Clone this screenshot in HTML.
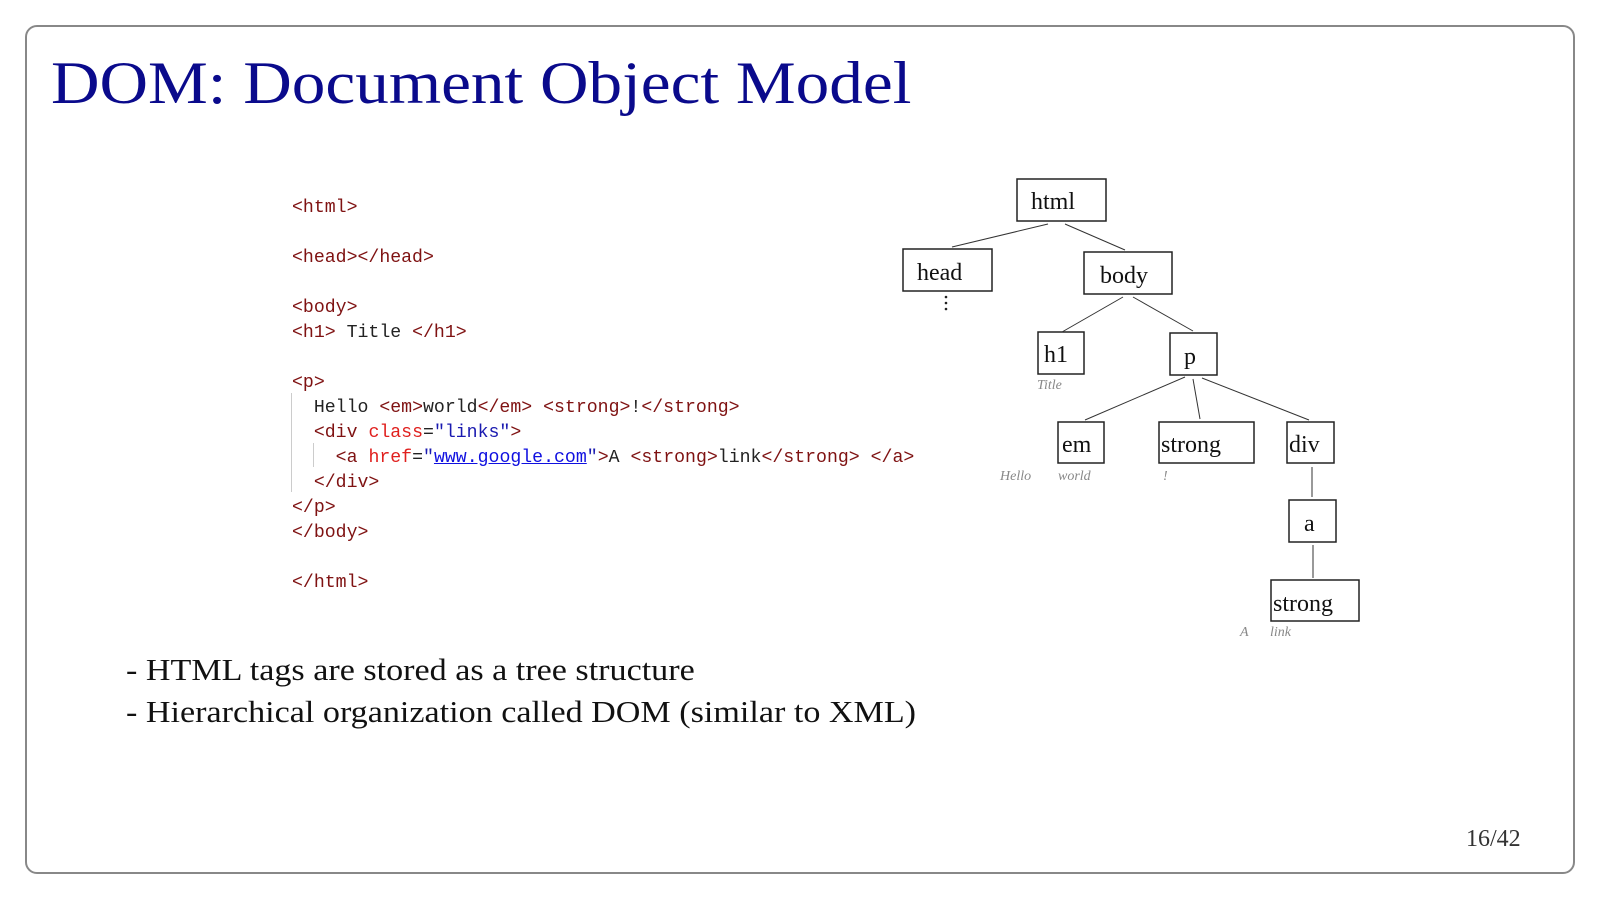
<!DOCTYPE html>
<html><head><meta charset="utf-8"><style>
html,body{margin:0;padding:0;background:#fff;width:1600px;height:902px;overflow:hidden;position:relative}
.frame{position:absolute;left:25px;top:25px;width:1546px;height:845px;border:2px solid #888;border-radius:12px;box-sizing:content-box}
.title{position:absolute;left:51px;top:49px;font:60px "Liberation Serif",serif;color:#0a0a8c;white-space:nowrap;transform:scaleX(1.12);transform-origin:0 0}
.code{position:absolute;left:292px;font:18.2px/25px "Liberation Mono",monospace;white-space:pre;color:#222}
.t{color:#7f1212}.at{color:#e0201e}.s{color:#1a1ab0}.u{color:#1010e0;text-decoration:underline}
.bul{position:absolute;left:126px;font:31px "Liberation Serif",serif;color:#111;white-space:nowrap;transform:scaleX(1.1);transform-origin:0 0}
.pg{position:absolute;left:1466px;top:826px;font:24px "Liberation Serif",serif;color:#333}
.bar{position:absolute;width:1px;background:#ccc}
</style></head><body>
<div class="frame"></div>
<div class="title">DOM: Document Object Model</div>

<div class="code" style="top:196px"><span class="t">&lt;html&gt;</span></div>
<div class="code" style="top:246px"><span class="t">&lt;head&gt;&lt;/head&gt;</span></div>
<div class="code" style="top:296px"><span class="t">&lt;body&gt;</span></div>
<div class="code" style="top:321px"><span class="t">&lt;h1&gt;</span> Title <span class="t">&lt;/h1&gt;</span></div>
<div class="code" style="top:371px"><span class="t">&lt;p&gt;</span></div>
<div class="code" style="top:396px">  Hello <span class="t">&lt;em&gt;</span>world<span class="t">&lt;/em&gt;</span> <span class="t">&lt;strong&gt;</span>!<span class="t">&lt;/strong&gt;</span></div>
<div class="code" style="top:421px">  <span class="t">&lt;div</span> <span class="at">class</span>=<span class="s">"links"</span><span class="t">&gt;</span></div>
<div class="code" style="top:446px">    <span class="t">&lt;a</span> <span class="at">href</span>=<span class="s">"</span><span class="u">www.google.com</span><span class="s">"</span><span class="t">&gt;</span>A <span class="t">&lt;strong&gt;</span>link<span class="t">&lt;/strong&gt;</span> <span class="t">&lt;/a&gt;</span></div>
<div class="code" style="top:471px">  <span class="t">&lt;/div&gt;</span></div>
<div class="code" style="top:496px"><span class="t">&lt;/p&gt;</span></div>
<div class="code" style="top:521px"><span class="t">&lt;/body&gt;</span></div>
<div class="code" style="top:571px"><span class="t">&lt;/html&gt;</span></div>
<div class="bar" style="left:291px;top:393px;height:99px"></div>
<div class="bar" style="left:313px;top:443px;height:24px"></div>

<svg width="1600" height="902" style="position:absolute;left:0;top:0" xmlns="http://www.w3.org/2000/svg">
<g fill="#fff" stroke="#222" stroke-width="1.5">
<rect x="1017" y="179" width="89" height="42"/>
<rect x="903" y="249" width="89" height="42"/>
<rect x="1084" y="252" width="88" height="42"/>
<rect x="1038" y="332" width="46" height="42"/>
<rect x="1170" y="333" width="47" height="42"/>
<rect x="1058" y="422" width="46" height="41"/>
<rect x="1159" y="422" width="95" height="41"/>
<rect x="1287" y="422" width="47" height="41"/>
<rect x="1289" y="500" width="47" height="42"/>
<rect x="1271" y="580" width="88" height="41"/>
</g>
<g stroke="#333" stroke-width="1">
<line x1="1048" y1="224" x2="952" y2="247"/>
<line x1="1065" y1="224" x2="1125" y2="250"/>
<line x1="1123" y1="297" x2="1062" y2="332"/>
<line x1="1133" y1="297" x2="1193" y2="331"/>
<line x1="1185" y1="377" x2="1085" y2="420"/>
<line x1="1193" y1="379" x2="1200" y2="419"/>
<line x1="1202" y1="378" x2="1309" y2="420"/>
<line x1="1312" y1="467" x2="1312" y2="497"/>
<line x1="1313" y1="545" x2="1313" y2="578"/>
</g>
<g fill="#222"><circle cx="946" cy="297" r="1.3"/><circle cx="946" cy="303" r="1.3"/><circle cx="946" cy="309" r="1.3"/></g>
<g font-family="Liberation Serif, serif" font-size="24" fill="#111">
<text x="1031" y="209">html</text>
<text x="917" y="280">head</text>
<text x="1100" y="283">body</text>
<text x="1044" y="362">h1</text>
<text x="1184" y="364">p</text>
<text x="1062" y="452">em</text>
<text x="1161" y="452">strong</text>
<text x="1289" y="452">div</text>
<text x="1304" y="531">a</text>
<text x="1273" y="611">strong</text>
</g>
<g font-family="Liberation Serif, serif" font-size="14" font-style="italic" fill="#888">
<text x="1037" y="389">Title</text>
<text x="1000" y="480">Hello</text>
<text x="1058" y="480">world</text>
<text x="1163" y="480">!</text>
<text x="1240" y="636">A</text>
<text x="1270" y="636">link</text>
</g>
</svg>

<div class="bul" style="top:652px">- HTML tags are stored as a tree structure</div>
<div class="bul" style="top:694px">- Hierarchical organization called DOM (similar to XML)</div>
<div class="pg">16/42</div>
</body></html>
